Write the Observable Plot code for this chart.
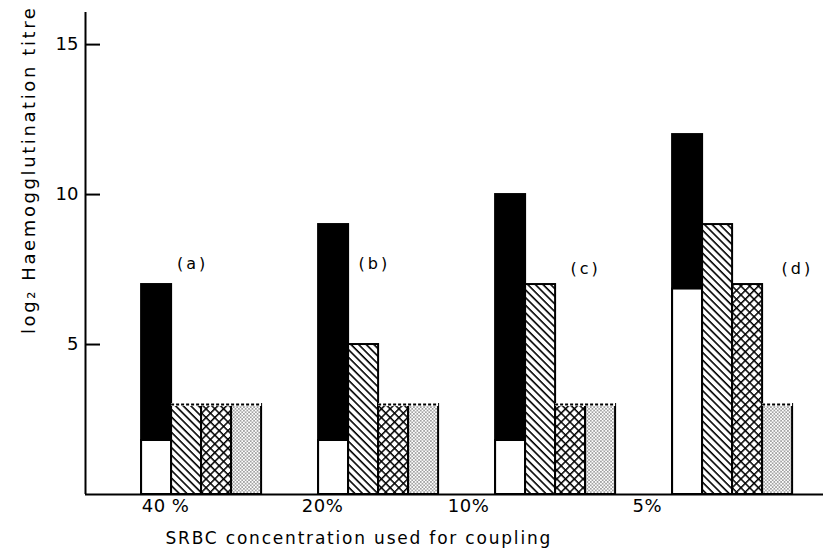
<!DOCTYPE html>
<html><head><meta charset="utf-8">
<script src="https://cdn.jsdelivr.net/npm/d3@7"></script>
<script src="https://cdn.jsdelivr.net/npm/@observablehq/plot@0.6"></script>
<style>body{margin:0;background:#fff}</style>
</head><body><div id="chart"></div>
<script>
// ---- data ----
const concentrations = ["40 %", "20%", "10%", "5%"];
const panelLabels = ["(a)", "(b)", "(c)", "(d)"];
const solidTotal = [7, 9, 10, 12];          // black bars (total height)
const solidLower = [1.8, 1.8, 1.8, 6.85];   // white lower part of black bars
const hatched = [3, 5, 7, 9];
const crossHatched = [3, 3, 3, 7];
const dotted = [3, 3, 3, 3];
const yTicks = [5, 10, 15];
const detectionLimit = 3;
const yLabel = "log\u2082 Haemogglutination titre";
const xLabel = "SRBC concentration used for coupling";

// ---- layout (data units on a linear x scale) ----
const groupStart = i => 1.87 + 5.9 * i;
const tickPos = [2.67, 7.9, 12.77, 18.73];
const panelPos = [[3.57, 7.7], [9.63, 7.7], [16.67, 7.53], [23.73, 7.53]];
const yMax = 16.07, xMax = 24.6;

const bars = (values, slot) => values.map((v, i) => ({x1: groupStart(i) + slot, x2: groupStart(i) + slot + 1, y: v}));
const blackBars = bars(solidTotal, 0);
const whiteBars = bars(solidLower, 0);
const hatchBars = bars(hatched, 1);
const crossBars = bars(crossHatched, 2);
const dotBars = bars(dotted, 3);
const lowTops = [...hatchBars, ...crossBars, ...dotBars].filter(d => d.y <= detectionLimit);

const rect = (data, fill) => Plot.rect(data, {x1: "x1", x2: "x2", y1: 0, y2: "y", fill, stroke: "black", strokeWidth: 2});

const plot = Plot.plot({
  width: 834, height: 553,
  marginLeft: 85, marginRight: 11, marginTop: 12, marginBottom: 59,
  x: {domain: [0, xMax], axis: null},
  y: {domain: [0, yMax], axis: null},
  style: {fontFamily: "DejaVu Sans", fontSize: "17px", background: "white"},
  marks: [
    rect(blackBars, "black"),
    rect(whiteBars, "white"),
    rect(hatchBars, "url(#hatch)"),
    rect(crossBars, "url(#cross)"),
    rect(dotBars, "url(#dots)"),
    Plot.ruleY(lowTops, {x1: "x1", x2: "x2", y: "y", stroke: "white", strokeWidth: 3}),
    Plot.ruleY(lowTops, {x1: "x1", x2: "x2", y: "y", stroke: "black", strokeWidth: 2, strokeDasharray: "3,2"}),
    Plot.ruleX([0], {y1: 0, y2: yMax, stroke: "black", strokeWidth: 2}),
    Plot.ruleY([0], {x1: 0, x2: xMax, stroke: "black", strokeWidth: 2}),
    Plot.ruleY(yTicks, {x1: 0, x2: 0.5, stroke: "black", strokeWidth: 2}),
    Plot.text(yTicks, {y: d => d, frameAnchor: "left", textAnchor: "end", dx: -7, fontSize: 18, text: d => String(d)}),
    Plot.text(concentrations, {x: (d, i) => tickPos[i], frameAnchor: "bottom", dy: 17, fontSize: 18, text: d => d}),
    Plot.text(panelLabels, {x: (d, i) => panelPos[i][0], y: (d, i) => panelPos[i][1], fontSize: 16, text: d => d}),
    Plot.text([yLabel], {frameAnchor: "top-left", rotate: -90, textAnchor: "end", dx: -63, dy: -7, fontSize: 18, text: d => d}),
    Plot.text([xLabel], {frameAnchor: "bottom-left", textAnchor: "start", dx: 80, dy: 49, fontSize: 17, text: d => d})
  ]
});

const svg = d3.select(plot.tagName.toLowerCase() === "svg" ? plot : plot.querySelector("svg"));
svg.selectAll("text").each(function() {
  const t = this.textContent;
  if (t === yLabel) this.style.letterSpacing = "2.6px";
  else if (t === xLabel) this.style.letterSpacing = "1.8px";
  else if (panelLabels.includes(t)) this.style.letterSpacing = "3px";
  else if (concentrations.includes(t)) this.style.letterSpacing = "0.5px";
});
const defs = svg.insert("defs", ":first-child");
const hatch = defs.append("pattern").attr("id", "hatch").attr("patternUnits", "userSpaceOnUse")
  .attr("width", 5.4).attr("height", 5.4).attr("patternTransform", "rotate(45)");
hatch.append("rect").attr("width", 5.4).attr("height", 5.4).attr("fill", "white");
hatch.append("rect").attr("width", 5.4).attr("height", 1.6).attr("fill", "black");
const cross = defs.append("pattern").attr("id", "cross").attr("patternUnits", "userSpaceOnUse")
  .attr("width", 6.2).attr("height", 6.2).attr("patternTransform", "rotate(45)");
cross.append("rect").attr("width", 6.2).attr("height", 6.2).attr("fill", "white");
cross.append("rect").attr("width", 6.2).attr("height", 1.5).attr("fill", "black");
cross.append("rect").attr("width", 1.5).attr("height", 6.2).attr("fill", "black");
const dots = defs.append("pattern").attr("id", "dots").attr("patternUnits", "userSpaceOnUse")
  .attr("width", 3.4).attr("height", 3.4);
dots.append("rect").attr("width", 3.4).attr("height", 3.4).attr("fill", "white");
dots.append("circle").attr("cx", 0.85).attr("cy", 0.85).attr("r", 0.6).attr("fill", "black");
dots.append("circle").attr("cx", 2.55).attr("cy", 2.55).attr("r", 0.6).attr("fill", "black");

document.getElementById("chart").appendChild(plot);
</script>
</body></html>
